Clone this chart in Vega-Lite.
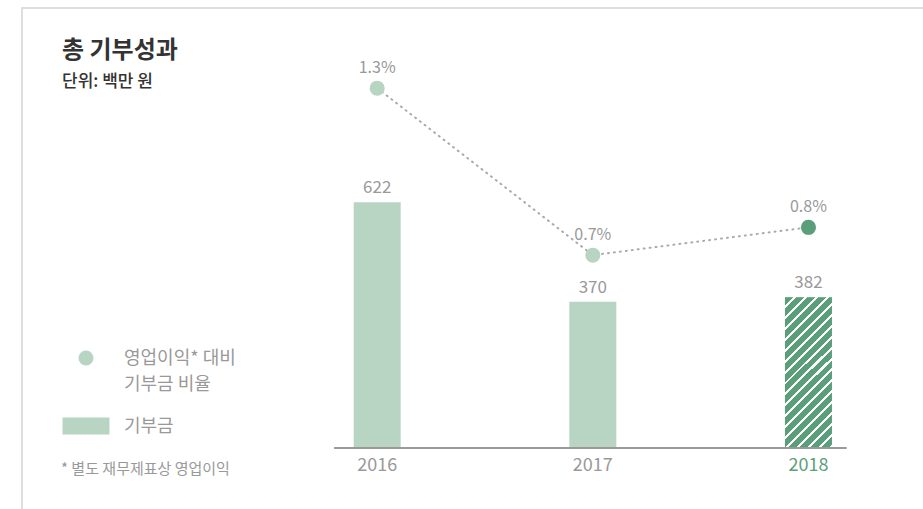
{
  "$schema": "https://vega.github.io/schema/vega-lite/v6.json",
  "width": 923,
  "height": 520,
  "autosize": {"type": "none"},
  "padding": {"left": 22, "top": 8, "right": 0, "bottom": 0},
  "background": "white",
  "config": {
    "font": "Noto Sans CJK KR",
    "view": {"stroke": "#dedede", "strokeWidth": 2}
  },
  "title": {
    "text": "총 기부성과",
    "subtitle": "단위: 백만 원",
    "anchor": "start",
    "frame": "group",
    "orient": "top",
    "offset": -82,
    "dx": 40,
    "fontSize": 24,
    "fontWeight": "bold",
    "color": "#333333",
    "subtitleFontSize": 17,
    "subtitleColor": "#333333",
    "subtitleFontWeight": 500,
    "subtitlePadding": 11
  },
  "data": {
    "values": [
      {"year": 2016, "amount": 622, "ratio": 0.013},
      {"year": 2017, "amount": 370, "ratio": 0.007},
      {"year": 2018, "amount": 382, "ratio": 0.008}
    ]
  },
  "encoding": {
    "x": {"field": "year", "type": "quantitative", "scale": {"domain": [2014.376, 2018.61], "nice": false, "zero": false}, "axis": null}
  },
  "layer": [
    {
      "encoding": {
        "y": {"field": "amount", "type": "quantitative", "scale": {"domain": [-202.5, 1114], "zero": false, "nice": false}, "axis": null}
      },
      "layer": [
        {
          "mark": {"type": "bar", "width": 47},
          "encoding": {
            "color": {
              "datum": "기부금",
              "type": "nominal",
              "scale": {"domain": ["영업이익* 대비 기부금 비율", "기부금"], "range": ["#b8d4c3", "#b8d4c3"]},
              "legend": {
                "orient": "none",
                "legendX": 39,
                "legendY": 341,
                "title": "* 별도 재무제표상 영업이익",
                "titleOrient": "bottom",
                "titleAnchor": "start",
                "titleFontSize": 15,
                "titleFontWeight": "normal",
                "titleColor": "#999999",
                "titlePadding": 26,
                "labelFontSize": 18,
                "labelColor": "#999999",
                "labelBaseline": "top",
                "labelOffset": 29,
                "labelLimit": 300,
                "symbolOffset": 16,
                "symbolSize": 225,
                "symbolStrokeWidth": 0,
                "symbolOpacity": 1,
                "rowPadding": 23,
                "padding": 0,
                "labelExpr": "datum.label == '기부금' ? datum.label : ['영업이익* 대비', '기부금 비율']",
                "encode": {"labels": {"update": {"dy": {"value": -8}, "lineHeight": {"value": 26}}}}
              }
            }
          }
        },
        {
          "transform": [{"filter": "datum.year == 2018"}],
          "mark": {
            "type": "bar",
            "width": 47,
            "fill": {
              "gradient": "linear",
              "x1": 0, "y1": 0, "x2": 0.372, "y2": 1.195,
              "stops": [
                {"offset": 0, "color": "#5b9f7a"}, {"offset": 0.0404, "color": "#5b9f7a"}, {"offset": 0.0404, "color": "#ffffff"}, {"offset": 0.0556, "color": "#ffffff"},
                {"offset": 0.0556, "color": "#5b9f7a"}, {"offset": 0.096, "color": "#5b9f7a"}, {"offset": 0.096, "color": "#ffffff"}, {"offset": 0.1111, "color": "#ffffff"},
                {"offset": 0.1111, "color": "#5b9f7a"}, {"offset": 0.1515, "color": "#5b9f7a"}, {"offset": 0.1515, "color": "#ffffff"}, {"offset": 0.1667, "color": "#ffffff"},
                {"offset": 0.1667, "color": "#5b9f7a"}, {"offset": 0.2071, "color": "#5b9f7a"}, {"offset": 0.2071, "color": "#ffffff"}, {"offset": 0.2222, "color": "#ffffff"},
                {"offset": 0.2222, "color": "#5b9f7a"}, {"offset": 0.2626, "color": "#5b9f7a"}, {"offset": 0.2626, "color": "#ffffff"}, {"offset": 0.2778, "color": "#ffffff"},
                {"offset": 0.2778, "color": "#5b9f7a"}, {"offset": 0.3182, "color": "#5b9f7a"}, {"offset": 0.3182, "color": "#ffffff"}, {"offset": 0.3333, "color": "#ffffff"},
                {"offset": 0.3333, "color": "#5b9f7a"}, {"offset": 0.3737, "color": "#5b9f7a"}, {"offset": 0.3737, "color": "#ffffff"}, {"offset": 0.3889, "color": "#ffffff"},
                {"offset": 0.3889, "color": "#5b9f7a"}, {"offset": 0.4293, "color": "#5b9f7a"}, {"offset": 0.4293, "color": "#ffffff"}, {"offset": 0.4444, "color": "#ffffff"},
                {"offset": 0.4444, "color": "#5b9f7a"}, {"offset": 0.4848, "color": "#5b9f7a"}, {"offset": 0.4848, "color": "#ffffff"}, {"offset": 0.5, "color": "#ffffff"},
                {"offset": 0.5, "color": "#5b9f7a"}, {"offset": 0.5404, "color": "#5b9f7a"}, {"offset": 0.5404, "color": "#ffffff"}, {"offset": 0.5556, "color": "#ffffff"},
                {"offset": 0.5556, "color": "#5b9f7a"}, {"offset": 0.596, "color": "#5b9f7a"}, {"offset": 0.596, "color": "#ffffff"}, {"offset": 0.6111, "color": "#ffffff"},
                {"offset": 0.6111, "color": "#5b9f7a"}, {"offset": 0.6515, "color": "#5b9f7a"}, {"offset": 0.6515, "color": "#ffffff"}, {"offset": 0.6667, "color": "#ffffff"},
                {"offset": 0.6667, "color": "#5b9f7a"}, {"offset": 0.7071, "color": "#5b9f7a"}, {"offset": 0.7071, "color": "#ffffff"}, {"offset": 0.7222, "color": "#ffffff"},
                {"offset": 0.7222, "color": "#5b9f7a"}, {"offset": 0.7626, "color": "#5b9f7a"}, {"offset": 0.7626, "color": "#ffffff"}, {"offset": 0.7778, "color": "#ffffff"},
                {"offset": 0.7778, "color": "#5b9f7a"}, {"offset": 0.8182, "color": "#5b9f7a"}, {"offset": 0.8182, "color": "#ffffff"}, {"offset": 0.8333, "color": "#ffffff"},
                {"offset": 0.8333, "color": "#5b9f7a"}, {"offset": 0.8737, "color": "#5b9f7a"}, {"offset": 0.8737, "color": "#ffffff"}, {"offset": 0.8889, "color": "#ffffff"},
                {"offset": 0.8889, "color": "#5b9f7a"}, {"offset": 0.9293, "color": "#5b9f7a"}, {"offset": 0.9293, "color": "#ffffff"}, {"offset": 0.9444, "color": "#ffffff"},
                {"offset": 0.9444, "color": "#5b9f7a"}, {"offset": 0.9848, "color": "#5b9f7a"}, {"offset": 0.9848, "color": "#ffffff"}, {"offset": 1, "color": "#ffffff"}
              ]
            }
          }
        },
        {
          "transform": [{"joinaggregate": [{"op": "min", "field": "year", "as": "first"}, {"op": "max", "field": "year", "as": "last"}]}],
          "mark": {"type": "rule", "color": "#999999", "strokeWidth": 1.5, "xOffset": -43, "x2Offset": 38},
          "encoding": {
            "x": {"field": "first", "type": "quantitative"},
            "x2": {"field": "last"},
            "y": {"datum": 0}
          }
        },
        {
          "mark": {"type": "text", "baseline": "alphabetic", "dy": -9, "fontSize": 17, "color": "#999999"},
          "encoding": {"text": {"field": "amount", "type": "quantitative"}}
        },
        {
          "mark": {"type": "text", "baseline": "alphabetic", "dy": 23, "fontSize": 18},
          "encoding": {
            "y": {"datum": 0},
            "text": {"field": "year", "type": "nominal"},
            "color": {"condition": {"test": "datum.year == 2018", "value": "#5b9f7a"}, "value": "#999999"}
          }
        }
      ]
    },
    {
      "encoding": {
        "y": {"field": "ratio", "type": "quantitative", "scale": {"domain": [-0.002803, 0.01588], "zero": false, "nice": false}, "axis": null}
      },
      "layer": [
        {
          "mark": {"type": "line", "color": "#aaaaaa", "strokeWidth": 2, "strokeDash": [1, 5], "strokeCap": "round"}
        },
        {
          "mark": {"type": "point", "filled": true, "size": 225, "opacity": 1},
          "encoding": {
            "color": {"datum": "영업이익* 대비 기부금 비율", "type": "nominal"},
            "shape": {
              "datum": "영업이익* 대비 기부금 비율",
              "type": "nominal",
              "scale": {"domain": ["영업이익* 대비 기부금 비율", "기부금"], "range": ["circle", "M-3.13,-1.13H3.13V1.13H-3.13Z"]},
              "legend": {
                "orient": "none",
                "legendX": 39,
                "legendY": 341,
                "title": "* 별도 재무제표상 영업이익",
                "titleOrient": "bottom",
                "titleAnchor": "start",
                "titleFontSize": 15,
                "titleFontWeight": "normal",
                "titleColor": "#999999",
                "titlePadding": 26,
                "labelFontSize": 18,
                "labelColor": "#999999",
                "labelBaseline": "top",
                "labelOffset": 29,
                "labelLimit": 300,
                "symbolOffset": 16,
                "symbolSize": 225,
                "symbolStrokeWidth": 0,
                "symbolOpacity": 1,
                "rowPadding": 23,
                "padding": 0,
                "labelExpr": "datum.label == '기부금' ? datum.label : ['영업이익* 대비', '기부금 비율']",
                "encode": {"labels": {"update": {"dy": {"value": -8}, "lineHeight": {"value": 26}}}}
              }
            }
          }
        },
        {
          "transform": [{"filter": "datum.year == 2018"}],
          "mark": {"type": "point", "filled": true, "size": 225, "color": "#5b9f7a", "opacity": 1}
        },
        {
          "mark": {"type": "text", "baseline": "alphabetic", "dy": -15, "fontSize": 16, "color": "#999999"},
          "encoding": {"text": {"field": "ratio", "type": "quantitative", "format": ".1%"}}
        }
      ]
    }
  ],
  "resolve": {"scale": {"y": "independent"}}
}
